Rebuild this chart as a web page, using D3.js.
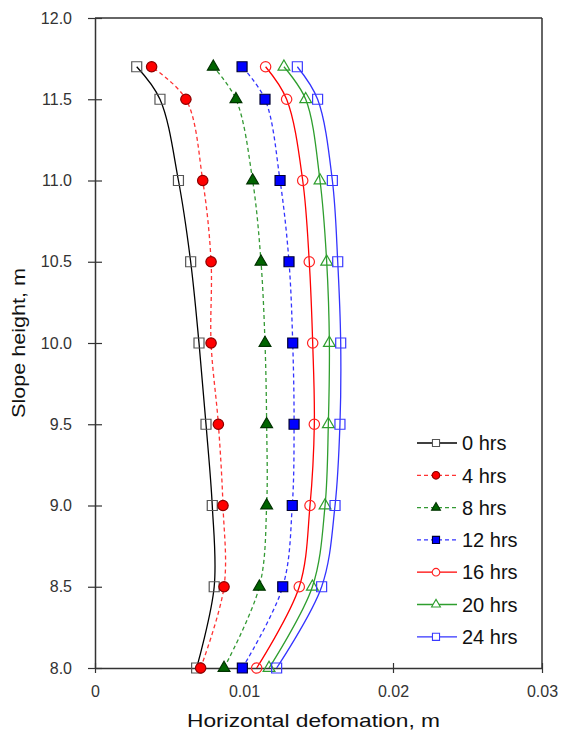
<!DOCTYPE html>
<html>
<head>
<meta charset="utf-8">
<script src="https://cdn.jsdelivr.net/npm/d3@7"></script>
<style>
  body { margin: 0; background: #fff; }
  text { font-family: "Liberation Sans", Arial, sans-serif; }
</style>
</head>
<body>
<div id="chart"></div>
<script>
//Data
var heights = [8.0, 8.5, 9.0, 9.5, 10.0, 10.5, 11.0, 11.5, 11.7];
var seriesNames = ["0 hrs", "4 hrs", "8 hrs", "12 hrs", "16 hrs", "20 hrs", "24 hrs"];
var hrs0  = [0.00682, 0.00800, 0.00787, 0.00745, 0.00698, 0.00642, 0.00560, 0.00436, 0.00280];
var hrs4  = [0.00709, 0.00866, 0.00859, 0.00828, 0.00779, 0.00779, 0.00723, 0.00610, 0.00380];
var hrs8  = [0.00866, 0.01103, 0.01152, 0.01152, 0.01141, 0.01114, 0.01058, 0.00946, 0.00794];
var hrs12 = [0.00989, 0.01260, 0.01324, 0.01336, 0.01327, 0.01302, 0.01242, 0.01141, 0.00987];
var hrs16 = [0.01085, 0.01371, 0.01443, 0.01472, 0.01461, 0.01438, 0.01394, 0.01286, 0.01145];
var hrs20 = [0.01168, 0.01459, 0.01544, 0.01566, 0.01573, 0.01555, 0.01510, 0.01414, 0.01268];
var hrs24 = [0.01219, 0.01521, 0.01611, 0.01644, 0.01649, 0.01629, 0.01593, 0.01494, 0.01358];
var xTicks = [0, 0.01, 0.02, 0.03];
var yTicks = [8.0, 8.5, 9.0, 9.5, 10.0, 10.5, 11.0, 11.5, 12.0];

//Canvas
var margin = {top: 18, right: 23, bottom: 70, left: 95},
	W = 565, H = 738,
	w = W - margin.left - margin.right,
	h = H - margin.top - margin.bottom;

var xScale = d3.scaleLinear().domain([0, 0.03]).range([0, w]);
var yScale = d3.scaleLinear().domain([8, 12]).range([h, 0]);

//Style per series
var styles = [
	{values: hrs0,  line: "#000000", dash: null,  shape: d3.symbolSquare,   fill: "none",    stroke: "#555555"},
	{values: hrs4,  line: "#ff3333", dash: "4,3", shape: d3.symbolCircle,   fill: "#ff0000", stroke: "#8b0000"},
	{values: hrs8,  line: "#339933", dash: "4,3", shape: d3.symbolTriangle, fill: "#006400", stroke: "#003300"},
	{values: hrs12, line: "#3333ff", dash: "4,3", shape: d3.symbolSquare,   fill: "#0000ff", stroke: "#000033"},
	{values: hrs16, line: "#ff0000", dash: null,  shape: d3.symbolCircle,   fill: "none",    stroke: "#ff2222"},
	{values: hrs20, line: "#2e9e2e", dash: null,  shape: d3.symbolTriangle, fill: "none",    stroke: "#2e9e2e"},
	{values: hrs24, line: "#3333ff", dash: null,  shape: d3.symbolSquare,   fill: "none",    stroke: "#3a3aff"}
];
var symSize = function(shape, big) {
	if (shape === d3.symbolSquare) return big ? 100 : 50;
	if (shape === d3.symbolCircle) return big ? 85 : 45;
	return big ? 60 : 34;
};

var svg = d3.select("#chart").append("svg")
	.attr("width", W).attr("height", H)
	.append("g")
		.attr("transform", "translate(" + margin.left + "," + margin.top + ")");

//Frame top and right
svg.append("line").attr("x1", 0).attr("x2", w).attr("y1", 0).attr("y2", 0)
	.attr("stroke", "#333").attr("stroke-width", 1.5);
svg.append("line").attr("x1", w).attr("x2", w).attr("y1", 0).attr("y2", h)
	.attr("stroke", "#333").attr("stroke-width", 1.5);

//Axes (ticks cross the axis line)
var xAxis = d3.axisBottom(xScale).tickValues(xTicks).tickSize(0).tickPadding(18)
	.tickFormat(function(d) { return d === 0 ? "0" : d3.format(".2f")(d).replace(/0$/, ""); });
var yAxis = d3.axisLeft(yScale).tickValues(yTicks).tickSize(0).tickPadding(23)
	.tickFormat(d3.format(".1f"));

var gx = svg.append("g").attr("transform", "translate(0," + h + ")").call(xAxis);
var gy = svg.append("g").call(yAxis);
gx.selectAll(".tick line").attr("y1", -5).attr("y2", 5);
gy.selectAll(".tick line").attr("x1", -7).attr("x2", 7);
[gx, gy].forEach(function(g) {
	g.select(".domain").attr("stroke", "#333").attr("stroke-width", 1.5);
	g.selectAll(".tick line").attr("stroke", "#333").attr("stroke-width", 1.2);
	g.selectAll(".tick text").attr("fill", "#333").style("font-size", "16px")
		.style("font-family", "'Liberation Sans', Arial, sans-serif");
});

//Axis titles
svg.append("text")
	.attr("x", w / 2 - 5).attr("y", h + 59)
	.attr("text-anchor", "middle")
	.attr("textLength", 253).attr("lengthAdjust", "spacingAndGlyphs")
	.style("font-size", "19px").attr("fill", "#111")
	.text("Horizontal defomation, m");
svg.append("text")
	.attr("transform", "translate(" + (-70) + "," + (h / 2) + ") rotate(-90)")
	.attr("text-anchor", "middle")
	.attr("textLength", 150).attr("lengthAdjust", "spacingAndGlyphs")
	.style("font-size", "19px").attr("fill", "#111")
	.text("Slope height, m");

//Lines and markers
var line = d3.line()
	.curve(d3.curveCatmullRom.alpha(0.5))
	.x(function(d) { return xScale(d[0]); })
	.y(function(d) { return yScale(d[1]); });

styles.forEach(function(s) {
	var pts = s.values.map(function(v, i) { return [v, heights[i]]; });
	svg.append("path")
		.datum(pts)
		.attr("d", line)
		.attr("fill", "none")
		.attr("stroke", s.line)
		.attr("stroke-width", 1.3)
		.attr("stroke-dasharray", s.dash);
});

styles.forEach(function(s) {
	var pts = s.values.map(function(v, i) { return [v, heights[i]]; });
	svg.selectAll(null)
		.data(pts)
		.enter()
		.append("path")
			.attr("d", d3.symbol().type(s.shape).size(symSize(s.shape, true)))
			.attr("transform", function(d) { return "translate(" + xScale(d[0]) + "," + yScale(d[1]) + ")"; })
			.attr("fill", s.fill)
			.attr("stroke", s.stroke)
			.attr("stroke-width", 1.2);
});

//Legend
var legend = svg.append("g").attr("transform", "translate(" + (417 - margin.left) + "," + (443 - margin.top) + ")");
styles.forEach(function(s, i) {
	var g = legend.append("g").attr("transform", "translate(0," + (i * 32.3) + ")");
	g.append("line").attr("x1", 0).attr("x2", 40).attr("y1", 0).attr("y2", 0)
		.attr("stroke", s.line).attr("stroke-width", 1.3).attr("stroke-dasharray", s.dash);
	g.append("path")
		.attr("d", d3.symbol().type(s.shape).size(symSize(s.shape, false)))
		.attr("transform", "translate(19,0)")
		.attr("fill", s.fill === "none" ? "#fff" : s.fill)
		.attr("stroke", s.stroke).attr("stroke-width", 1.1);
	g.append("text")
		.attr("x", 45).attr("y", 0).attr("dy", "0.36em")
		.style("font-size", "20px").attr("fill", "#111")
		.text(seriesNames[i]);
});
</script>
</body>
</html>
